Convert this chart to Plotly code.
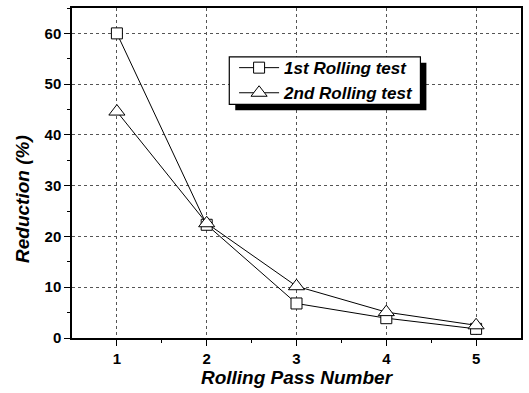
import plotly.graph_objects as go

# Reduction per rolling pass for two rolling tests
passes = [1, 2, 3, 4, 5]
reduction_test1 = [60.0, 22.3, 6.8, 3.9, 1.8]
reduction_test2 = [44.6, 22.6, 10.2, 5.1, 2.5]
series_names = ["1st Rolling test", "2nd Rolling test"]
y_ticks = [0, 10, 20, 30, 40, 50, 60]

FONT = "Liberation Sans, Arial, sans-serif"

fig = go.Figure()
fig.add_trace(go.Scatter(
    x=passes, y=reduction_test1, name=series_names[0], mode="lines+markers",
    line=dict(color="black", width=1),
    marker=dict(symbol="square", size=11, color="white",
                line=dict(color="black", width=1)),
))
fig.add_trace(go.Scatter(
    x=passes, y=reduction_test2, name=series_names[1], mode="lines+markers",
    line=dict(color="black", width=1),
    marker=dict(symbol="triangle-up", size=14, color="white",
                line=dict(color="black", width=1)),
))

axis_common = dict(
    showline=True, linecolor="black", linewidth=1.5, mirror=True,
    ticks="outside", ticklen=6, tickwidth=1.2, tickcolor="black",
    showgrid=True, gridcolor="#555555", gridwidth=1, griddash="dot",
    zeroline=False,
    tickfont=dict(family=FONT, size=15, color="black", weight="bold"),
)

fig.update_xaxes(
    range=[0.5, 5.5], tickmode="array", tickvals=passes,
    minor=dict(tickvals=[1.5, 2.5, 3.5, 4.5], ticks="outside", ticklen=3,
               tickcolor="black", showgrid=False),
    title=dict(text="<b><i>Rolling Pass Number</i></b>", standoff=5,
               font=dict(family=FONT, size=19, color="black")),
    **axis_common,
)
fig.update_yaxes(
    range=[0, 65], tickmode="array", tickvals=y_ticks,
    minor=dict(dtick=5, tick0=0, ticks="outside", ticklen=3, tickcolor="black", showgrid=False),
    **axis_common,
)

# y-axis title
fig.add_annotation(
    text="<b><i>Reduction (%)</i></b>", xref="paper", yref="paper",
    x=-0.1086, y=0.422, xanchor="center", yanchor="middle", textangle=-90,
    showarrow=False, font=dict(family=FONT, size=19, color="black"),
)

# Legend frame with a drop shadow
bx0, bx1, by0, by1 = 0.3503, 0.776, 0.708, 0.852
dx, dy = 0.0133, 0.018
fig.add_shape(type="rect", xref="paper", yref="paper",
              x0=bx0 + dx, x1=bx1 + dx, y0=by0 - dy, y1=by1 - dy,
              fillcolor="black", line=dict(width=0), layer="above")
fig.add_shape(type="rect", xref="paper", yref="paper",
              x0=bx0, x1=bx1, y0=by0, y1=by1,
              fillcolor="white", line=dict(color="black", width=1.2), layer="above")

fig.update_layout(
    width=529, height=393,
    margin=dict(l=72, r=6, t=6, b=55),
    paper_bgcolor="white", plot_bgcolor="white",
    font=dict(family=FONT, color="black"),
    legend=dict(
        x=0.361, y=0.78, xanchor="left", yanchor="middle",
        bgcolor="rgba(0,0,0,0)", borderwidth=0,
        font=dict(family=FONT, size=17, color="black", weight="bold", style="italic"),
        tracegroupgap=0, itemwidth=40,
    ),
    showlegend=True,
)

fig.write_html("out.html")
